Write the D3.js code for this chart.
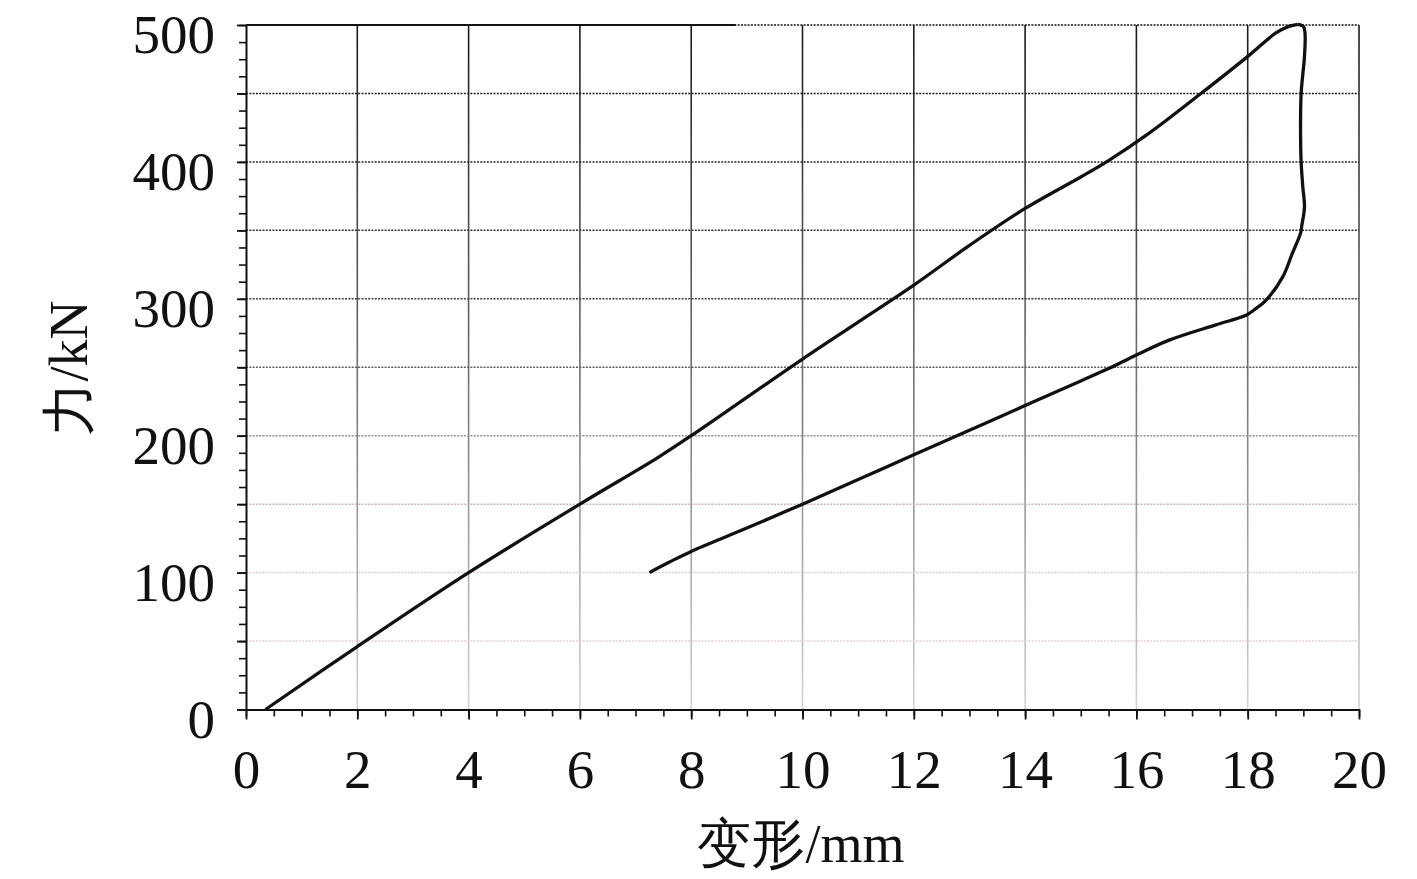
<!DOCTYPE html>
<html><head><meta charset="utf-8">
<script src="https://cdn.jsdelivr.net/npm/d3@7/dist/d3.min.js"></script>
<style>
html,body{margin:0;padding:0;background:#fff;}
svg{display:block;}
</style></head>
<body>
<svg id="chart" width="1417" height="879"></svg>
<script>
// ---- data ----
const xTicks = [0,2,4,6,8,10,12,14,16,18,20];
const yTicks = [0,100,200,300,400,500];
const yGrid = [50,100,150,200,250,300,350,400,450,500];
const xLabel = "变形/mm";
const yLabel = "力/kN";
// loading branch (deformation mm, force kN)
const loadX = [0.35,2,4,6,7.4,8,9,10,11,12,13,14,15,15.5,16.23,17.13,18.03,18.5,18.74,18.9];
const loadY = [0,46,100,150,184,200,228,256,283,310,339,366,389,401,421,449,478,494,499,500.5];
// unloading branch
const unloadX = [18.9,19.0,19.03,19.02,18.96,18.95,18.96,18.99,19.02,18.97,18.95,18.8,18.63,18.33,18.12,17.97,17.43,16.6,16,15.5,15,14,13,12,11,10,9,8,7.6,7.25];
const unloadY = [500.5,499,494,477,450,421,400,382,367,353,348,333,316,299,292,288,281,270,259,249,240,222,204,186,168,150,132.5,115.5,107.5,100];

// ---- layout ----
const svg = d3.select("#chart");
const x = d3.scaleLinear().domain([0,20]).range([246,1359]);
const y = d3.scaleLinear().domain([0,500]).range([709.5,25]);
const font = "'Liberation Serif','Times New Roman',serif";

const defs = svg.append("defs");
const g1 = defs.append("linearGradient").attr("id","vgrad")
  .attr("gradientUnits","userSpaceOnUse").attr("x1",0).attr("x2",0).attr("y1",25).attr("y2",710);
g1.append("stop").attr("offset","0").attr("stop-color","#1a1a1a");
g1.append("stop").attr("offset","0.45").attr("stop-color","#666");
g1.append("stop").attr("offset","1").attr("stop-color","#d4d4d4");
const g2 = defs.append("linearGradient").attr("id","hgrad")
  .attr("gradientUnits","userSpaceOnUse").attr("x1",0).attr("x2",0).attr("y1",25).attr("y2",710);
g2.append("stop").attr("offset","0").attr("stop-color","#111");
g2.append("stop").attr("offset","0.45").attr("stop-color","#444");
g2.append("stop").attr("offset","0.62").attr("stop-color","#999");
g2.append("stop").attr("offset","0.75").attr("stop-color","#e2c8cc");
g2.append("stop").attr("offset","1").attr("stop-color","#e8d0d4");

// vertical grid
svg.append("g").selectAll("line").data(xTicks.slice(1)).join("line")
  .attr("x1",d=>x(d)).attr("x2",d=>x(d)).attr("y1",y(500)).attr("y2",y(0))
  .attr("stroke","url(#vgrad)").attr("stroke-width",1.6);

// horizontal dotted grid
svg.append("g").selectAll("line").data(yGrid).join("line")
  .attr("x1",x(0)).attr("x2",x(20)).attr("y1",d=>y(d)).attr("y2",d=>y(d))
  .attr("stroke","url(#hgrad)").attr("stroke-width",1.5)
  .attr("stroke-dasharray","2,1.3");
// solid top border segment
svg.append("line").attr("x1",x(0)).attr("x2",x(8.8)).attr("y1",y(500)).attr("y2",y(500))
  .attr("stroke","#111").attr("stroke-width",2);

// minor ticks
const xMinor = d3.range(0,20.01,0.5);
svg.append("g").attr("transform",`translate(0,${y(0)})`)
  .call(d3.axisBottom(x).tickValues(xMinor).tickSize(7).tickFormat(""))
  .call(g=>g.select(".domain").remove())
  .call(g=>g.selectAll("line").attr("stroke","#111").attr("stroke-width",1.6));
const yMinor = d3.range(0,500.1,12.5);
svg.append("g").attr("transform",`translate(${x(0)},0)`)
  .call(d3.axisLeft(y).tickValues(yMinor).tickSize(7).tickFormat(""))
  .call(g=>g.select(".domain").remove())
  .call(g=>g.selectAll("line").attr("stroke","#111").attr("stroke-width",1.6));

// x axis
const xAxis = svg.append("g").attr("transform",`translate(0,${y(0)})`)
  .call(d3.axisBottom(x).tickValues(xTicks).tickSize(10).tickSizeOuter(0).tickPadding(29).tickFormat(d3.format("d")));
xAxis.select(".domain").attr("stroke","#111").attr("stroke-width",2);
xAxis.selectAll("line").attr("stroke","#111").attr("stroke-width",1.8);
xAxis.selectAll("text").attr("font-family",font).attr("font-size",55).attr("fill","#111");

// y axis
const yAxis = svg.append("g").attr("transform",`translate(${x(0)},0)`)
  .call(d3.axisLeft(y).tickValues(yGrid.concat([0])).tickSize(9).tickSizeOuter(0).tickPadding(22)
        .tickFormat(d=> d%100===0 ? d3.format("d")(d) : ""));
yAxis.select(".domain").attr("stroke","#111").attr("stroke-width",2);
yAxis.selectAll("line").attr("stroke","#111").attr("stroke-width",1.8);
yAxis.selectAll("text").attr("font-family",font).attr("font-size",55).attr("fill","#111")
  .attr("dy","0.5em");

// curve
const line2 = d3.line().x(d=>x(d[0])).y(d=>y(d[1])).curve(d3.curveCatmullRom.alpha(0.5));
const loadPts = loadX.map((v,i)=>[v,loadY[i]]);
const unloadPts = unloadX.map((v,i)=>[v,unloadY[i]]);
svg.append("path").attr("d",line2(loadPts)).attr("fill","none")
  .attr("stroke","#111").attr("stroke-width",3.3).attr("stroke-linejoin","round");
svg.append("path").attr("d",line2(unloadPts)).attr("fill","none")
  .attr("stroke","#111").attr("stroke-width",3.3).attr("stroke-linejoin","round");

// axis titles
svg.append("text").attr("x",801).attr("y",862).attr("text-anchor","middle")
  .attr("font-family",font).attr("font-size",54).attr("fill","#111")
  .text(xLabel);
svg.append("text").attr("transform","translate(87,368) rotate(-90)").attr("text-anchor","middle")
  .attr("font-family",font).attr("font-size",54).attr("fill","#111")
  .text(yLabel);
</script>
</body></html>
